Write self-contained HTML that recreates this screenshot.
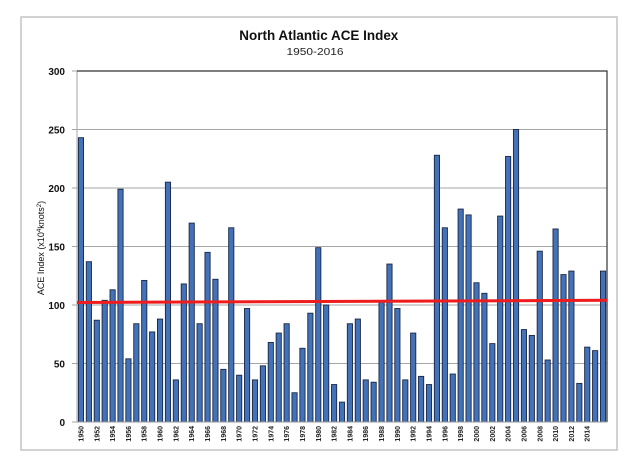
<!DOCTYPE html>
<html>
<head>
<meta charset="utf-8">
<style>
html,body{margin:0;padding:0;background:#fff;}
svg{display:block;}
text{font-family:"Liberation Sans",Arial,sans-serif;}
</style>
</head>
<body>
<svg width="638" height="469" viewBox="0 0 638 469" xmlns="http://www.w3.org/2000/svg">
<rect x="0" y="0" width="638" height="469" fill="#fff"/>
<rect x="21" y="17" width="596" height="433" fill="#fff" stroke="#c4c4c4" stroke-width="1.5"/>
<text x="318.8" y="40" font-size="14" font-weight="bold" text-anchor="middle" textLength="159" lengthAdjust="spacingAndGlyphs" fill="#111">North Atlantic ACE Index</text>
<text x="315" y="55" font-size="10" text-anchor="middle" textLength="57" lengthAdjust="spacingAndGlyphs" fill="#222">1950-2016</text>
<path d="M77 363.5H607M77 305H607M77 246.5H607M77 188H607M77 129.5H607M72 422H77M72 363.5H77M72 305H77M72 246.5H77M72 188H77M72 129.5H77M72 71H77M77 71V422" stroke="#a6a6a6" stroke-width="1" fill="none"/>
<path d="M77 71H607V422" stroke="#333" stroke-width="1.2" fill="none"/>
<g font-size="10" font-weight="bold" text-anchor="end" fill="#111">
<text x="65" y="426">0</text>
<text x="65" y="367.5">50</text>
<text x="65" y="309">100</text>
<text x="65" y="250.5">150</text>
<text x="65" y="192">200</text>
<text x="65" y="133.5">250</text>
<text x="65" y="75">300</text>
</g>
<text transform="translate(44,248) rotate(-90)" font-size="9" text-anchor="middle" fill="#111">ACE Index (x10<tspan font-size="6" dy="-3">4</tspan><tspan dy="3">knots</tspan><tspan font-size="6" dy="-3">2</tspan><tspan dy="3">)</tspan></text>
<g fill="#4372b8" stroke="#1a2744" stroke-width="0.9">
<rect x="78.36" y="137.69" width="5.2" height="284.31"/>
<rect x="86.27" y="261.71" width="5.2" height="160.29"/>
<rect x="94.18" y="320.21" width="5.2" height="101.79"/>
<rect x="102.09" y="300.32" width="5.2" height="121.68"/>
<rect x="110.0" y="289.79" width="5.2" height="132.21"/>
<rect x="117.91" y="189.17" width="5.2" height="232.83"/>
<rect x="125.82" y="358.82" width="5.2" height="63.18"/>
<rect x="133.73" y="323.72" width="5.2" height="98.28"/>
<rect x="141.64" y="280.43" width="5.2" height="141.57"/>
<rect x="149.55" y="331.91" width="5.2" height="90.09"/>
<rect x="157.46" y="319.04" width="5.2" height="102.96"/>
<rect x="165.37" y="182.15" width="5.2" height="239.85"/>
<rect x="173.28" y="379.88" width="5.2" height="42.12"/>
<rect x="181.20" y="283.94" width="5.2" height="138.06"/>
<rect x="189.11" y="223.1" width="5.2" height="198.9"/>
<rect x="197.02" y="323.72" width="5.2" height="98.28"/>
<rect x="204.93" y="252.35" width="5.2" height="169.65"/>
<rect x="212.84" y="279.26" width="5.2" height="142.74"/>
<rect x="220.75" y="369.35" width="5.2" height="52.65"/>
<rect x="228.66" y="227.78" width="5.2" height="194.22"/>
<rect x="236.57" y="375.2" width="5.2" height="46.8"/>
<rect x="244.48" y="308.51" width="5.2" height="113.49"/>
<rect x="252.39" y="379.88" width="5.2" height="42.12"/>
<rect x="260.30" y="365.84" width="5.2" height="56.16"/>
<rect x="268.21" y="342.44" width="5.2" height="79.56"/>
<rect x="276.12" y="333.08" width="5.2" height="88.92"/>
<rect x="284.03" y="323.72" width="5.2" height="98.28"/>
<rect x="291.94" y="392.75" width="5.2" height="29.25"/>
<rect x="299.85" y="348.29" width="5.2" height="73.71"/>
<rect x="307.76" y="313.19" width="5.2" height="108.81"/>
<rect x="315.67" y="247.67" width="5.2" height="174.33"/>
<rect x="323.58" y="305" width="5.2" height="117"/>
<rect x="331.49" y="384.56" width="5.2" height="37.44"/>
<rect x="339.40" y="402.11" width="5.2" height="19.89"/>
<rect x="347.31" y="323.72" width="5.2" height="98.28"/>
<rect x="355.22" y="319.04" width="5.2" height="102.96"/>
<rect x="363.13" y="379.88" width="5.2" height="42.12"/>
<rect x="371.04" y="382.22" width="5.2" height="39.78"/>
<rect x="378.96" y="301.49" width="5.2" height="120.51"/>
<rect x="386.87" y="264.05" width="5.2" height="157.95"/>
<rect x="394.78" y="308.51" width="5.2" height="113.49"/>
<rect x="402.69" y="379.88" width="5.2" height="42.12"/>
<rect x="410.60" y="333.08" width="5.2" height="88.92"/>
<rect x="418.51" y="376.37" width="5.2" height="45.63"/>
<rect x="426.42" y="384.56" width="5.2" height="37.44"/>
<rect x="434.33" y="155.24" width="5.2" height="266.76"/>
<rect x="442.24" y="227.78" width="5.2" height="194.22"/>
<rect x="450.15" y="374.03" width="5.2" height="47.97"/>
<rect x="458.06" y="209.06" width="5.2" height="212.94"/>
<rect x="465.97" y="214.91" width="5.2" height="207.09"/>
<rect x="473.88" y="282.77" width="5.2" height="139.23"/>
<rect x="481.79" y="293.3" width="5.2" height="128.7"/>
<rect x="489.70" y="343.61" width="5.2" height="78.39"/>
<rect x="497.61" y="216.08" width="5.2" height="205.92"/>
<rect x="505.52" y="156.41" width="5.2" height="265.59"/>
<rect x="513.43" y="129.5" width="5.2" height="292.5"/>
<rect x="521.34" y="329.57" width="5.2" height="92.43"/>
<rect x="529.25" y="335.42" width="5.2" height="86.58"/>
<rect x="537.16" y="251.18" width="5.2" height="170.82"/>
<rect x="545.07" y="359.99" width="5.2" height="62.01"/>
<rect x="552.98" y="228.95" width="5.2" height="193.05"/>
<rect x="560.89" y="274.58" width="5.2" height="147.42"/>
<rect x="568.80" y="271.07" width="5.2" height="150.93"/>
<rect x="576.72" y="383.39" width="5.2" height="38.61"/>
<rect x="584.63" y="347.12" width="5.2" height="74.88"/>
<rect x="592.54" y="350.63" width="5.2" height="71.37"/>
<rect x="600.45" y="271.07" width="5.2" height="150.93"/>
</g>
<line x1="77" y1="422" x2="607" y2="422" stroke="#999" stroke-width="1"/>
<line x1="77" y1="302.5" x2="607" y2="300.3" stroke="#ee1c1c" stroke-width="3"/>
<g font-size="7" font-weight="bold" text-anchor="end" fill="#222">
<text transform="translate(83.5,426) rotate(-90)">1950</text>
<text transform="translate(99.3,426) rotate(-90)">1952</text>
<text transform="translate(115.1,426) rotate(-90)">1954</text>
<text transform="translate(130.9,426) rotate(-90)">1956</text>
<text transform="translate(146.7,426) rotate(-90)">1958</text>
<text transform="translate(162.6,426) rotate(-90)">1960</text>
<text transform="translate(178.4,426) rotate(-90)">1962</text>
<text transform="translate(194.2,426) rotate(-90)">1964</text>
<text transform="translate(210.0,426) rotate(-90)">1966</text>
<text transform="translate(225.9,426) rotate(-90)">1968</text>
<text transform="translate(241.7,426) rotate(-90)">1970</text>
<text transform="translate(257.5,426) rotate(-90)">1972</text>
<text transform="translate(273.3,426) rotate(-90)">1974</text>
<text transform="translate(289.1,426) rotate(-90)">1976</text>
<text transform="translate(305.0,426) rotate(-90)">1978</text>
<text transform="translate(320.8,426) rotate(-90)">1980</text>
<text transform="translate(336.6,426) rotate(-90)">1982</text>
<text transform="translate(352.4,426) rotate(-90)">1984</text>
<text transform="translate(368.2,426) rotate(-90)">1986</text>
<text transform="translate(384.1,426) rotate(-90)">1988</text>
<text transform="translate(399.9,426) rotate(-90)">1990</text>
<text transform="translate(415.7,426) rotate(-90)">1992</text>
<text transform="translate(431.5,426) rotate(-90)">1994</text>
<text transform="translate(447.3,426) rotate(-90)">1996</text>
<text transform="translate(463.2,426) rotate(-90)">1998</text>
<text transform="translate(479.0,426) rotate(-90)">2000</text>
<text transform="translate(494.8,426) rotate(-90)">2002</text>
<text transform="translate(510.6,426) rotate(-90)">2004</text>
<text transform="translate(526.4,426) rotate(-90)">2006</text>
<text transform="translate(542.3,426) rotate(-90)">2008</text>
<text transform="translate(558.1,426) rotate(-90)">2010</text>
<text transform="translate(573.9,426) rotate(-90)">2012</text>
<text transform="translate(589.7,426) rotate(-90)">2014</text>
</g>
</svg>
</body>
</html>
